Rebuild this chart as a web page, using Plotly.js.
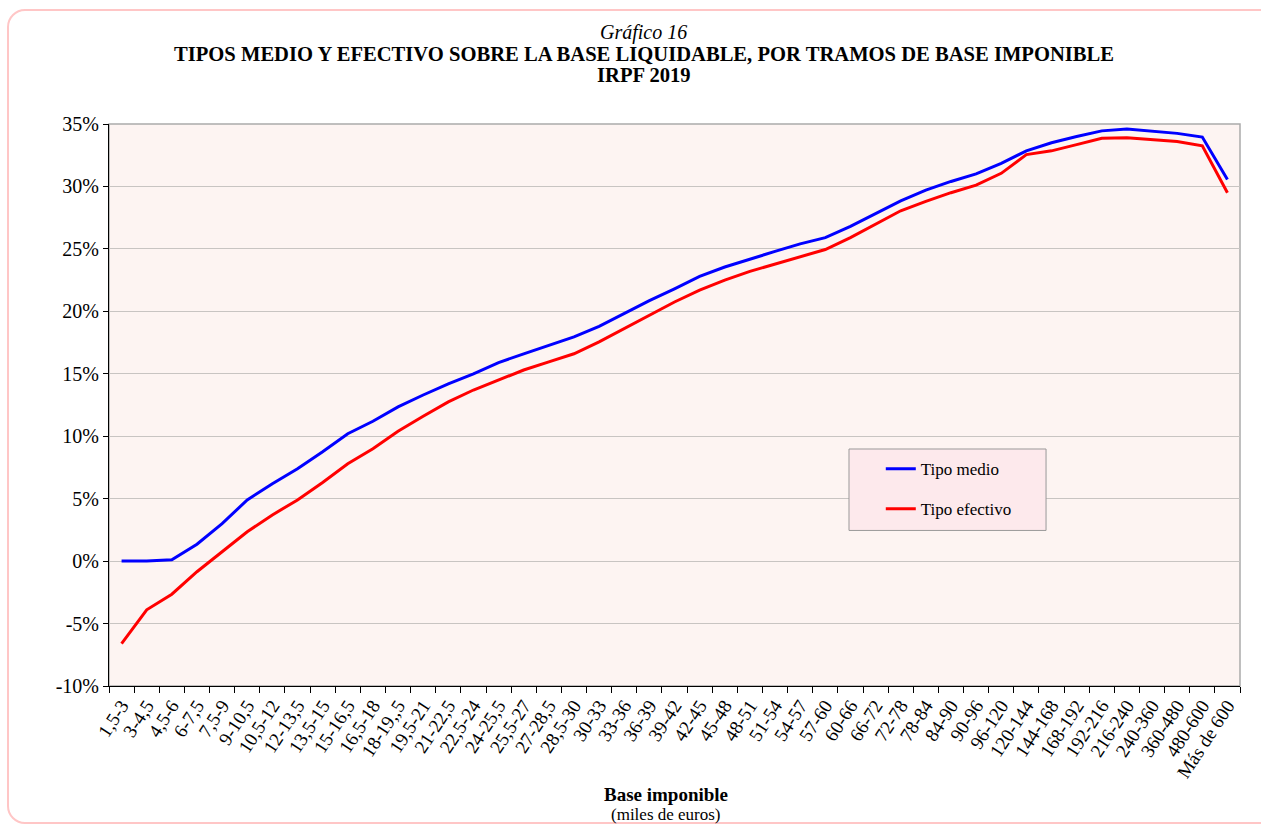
<!DOCTYPE html>
<html>
<head>
<meta charset="utf-8">
<script src="https://cdn.plot.ly/plotly-3.0.1.min.js"></script>
<style>
  html, body { margin: 0; padding: 0; background: #ffffff; overflow: hidden; }
  #frame { position: absolute; left: 7px; top: 9px; width: 1275px; height: 815px;
           border: 2px solid #ffc6c6; border-radius: 18px; box-sizing: border-box; }
  #chart { position: absolute; left: 0; top: 0; width: 1261px; height: 831px; }
</style>
</head>
<body>
<div id="frame"></div>
<div id="chart"></div>
<script>
const categories = ["1,5-3","3-4,5","4,5-6","6-7,5","7,5-9","9-10,5","10,5-12","12-13,5","13,5-15","15-16,5",
  "16,5-18","18-19,,5","19,5-21","21-22,5","22,5-24","24-25,5","25,5-27","27-28,5","28,5-30","30-33",
  "33-36","36-39","39-42","42-45","45-48","48-51","51-54","54-57","57-60","60-66",
  "66-72","72-78","78-84","84-90","90-96","96-120","120-144","144-168","168-192","192-216",
  "216-240","240-360","360-480","480-600","Más de 600"];

const tipoMedio = [0, 0, 0.1, 1.35, 3.0, 4.9, 6.2, 7.4, 8.75, 10.2,
  11.2, 12.35, 13.3, 14.2, 15.0, 15.9, 16.6, 17.3, 17.95, 18.8,
  19.85, 20.85, 21.8, 22.8, 23.55, 24.2, 24.8, 25.4, 25.9, 26.8,
  27.8, 28.85, 29.7, 30.4, 31.0, 31.85, 32.85, 33.5, 34.0, 34.45,
  34.6, 34.4, 34.25, 33.95, 30.55];

const tipoEfectivo = [-6.6, -3.9, -2.65, -0.85, 0.75, 2.35, 3.7, 4.9, 6.3, 7.8,
  9.0, 10.4, 11.6, 12.75, 13.7, 14.5, 15.3, 15.95, 16.6, 17.55,
  18.6, 19.7, 20.75, 21.7, 22.5, 23.2, 23.8, 24.4, 24.95, 25.9,
  27.0, 28.05, 28.8, 29.5, 30.1, 31.05, 32.55, 32.85, 33.35, 33.85,
  33.9, 33.75, 33.6, 33.25, 29.5];

const yTickVals = [-10, -5, 0, 5, 10, 15, 20, 25, 30, 35];
const yTickText = ["-10%", "-5%", "0%", "5%", "10%", "15%", "20%", "25%", "30%", "35%"];

const titleLines = ["<i>Gráfico 16</i>",
  "<b>TIPOS MEDIO Y EFECTIVO SOBRE LA BASE LIQUIDABLE, POR TRAMOS DE BASE IMPONIBLE</b>",
  "<b>IRPF 2019</b>"];
const xTitle = "<b>Base imponible</b>";
const xSubtitle = "(miles de euros)";

const serif = "Liberation Serif, Times New Roman, serif";

const traces = [
  { x: categories, y: tipoMedio, type: "scatter", mode: "lines", name: "Tipo medio",
    legendgroup: "a", line: { color: "#0000ff", width: 3 } },
  { x: categories, y: tipoEfectivo, type: "scatter", mode: "lines", name: "Tipo efectivo",
    legendgroup: "b", line: { color: "#ff0000", width: 3 } }
];

function ann(text, x, y, size) {
  return { text: text, xref: "paper", yref: "paper", x: x, y: y,
    xanchor: "center", yanchor: "middle", showarrow: false,
    font: { family: serif, size: size, color: "#000000" } };
}

const layout = {
  width: 1261, height: 831,
  paper_bgcolor: "rgba(0,0,0,0)",
  plot_bgcolor: "#fdf4f2",
  margin: { l: 109, r: 21, t: 124, b: 145 },
  font: { family: serif, color: "#000000", size: 17 },
  xaxis: {
    type: "category",
    range: [-0.5, 44.5],
    tickangle: -57,
    tickson: "boundaries",
    ticks: "outside", ticklen: 6, tickcolor: "#000000", tickwidth: 1,
    showline: true, linecolor: "#000000", linewidth: 1,
    showgrid: false,
    tickfont: { family: serif, size: 19, color: "#000000" },
    fixedrange: true
  },
  yaxis: {
    range: [-10, 35],
    tickvals: yTickVals, ticktext: yTickText,
    ticks: "outside", ticklen: 5, tickcolor: "#000000", tickwidth: 1,
    showline: true, linecolor: "#000000", linewidth: 1,
    showgrid: true, gridcolor: "#c8c4c2", gridwidth: 1,
    zeroline: false,
    tickfont: { family: serif, size: 20, color: "#000000" },
    fixedrange: true
  },
  showlegend: true,
  legend: {
    x: 0.6824, xanchor: "left", y: 0.418, yanchor: "top",
    bgcolor: "rgba(0,0,0,0)", borderwidth: 0,
    traceorder: "grouped", tracegroupgap: 15,
    font: { family: serif, size: 17, color: "#000000" }
  },
  shapes: [
    { type: "rect", xref: "paper", yref: "paper", x0: 0, x1: 1, y0: 0, y1: 1,
      line: { color: "#aaaaaa", width: 1.5 }, fillcolor: "rgba(0,0,0,0)", layer: "below" },
    { type: "rect", xref: "paper", yref: "paper", x0: 0.6543, x1: 0.8285, y0: 0.2768, y1: 0.4217,
      line: { color: "#999999", width: 1 }, fillcolor: "#fde9ec", layer: "above" }
  ],
  annotations: [
    ann(titleLines[0], 0.473, 1.1637, 20),
    ann(titleLines[1], 0.473, 1.1246, 20.6),
    ann(titleLines[2], 0.473, 1.0872, 20.6),
    ann(xTitle, 0.4925, -0.1922, 19),
    ann(xSubtitle, 0.4925, -0.2278, 17)
  ]
};

Plotly.newPlot("chart", traces, layout, { displayModeBar: false, staticPlot: true });
</script>
</body>
</html>
